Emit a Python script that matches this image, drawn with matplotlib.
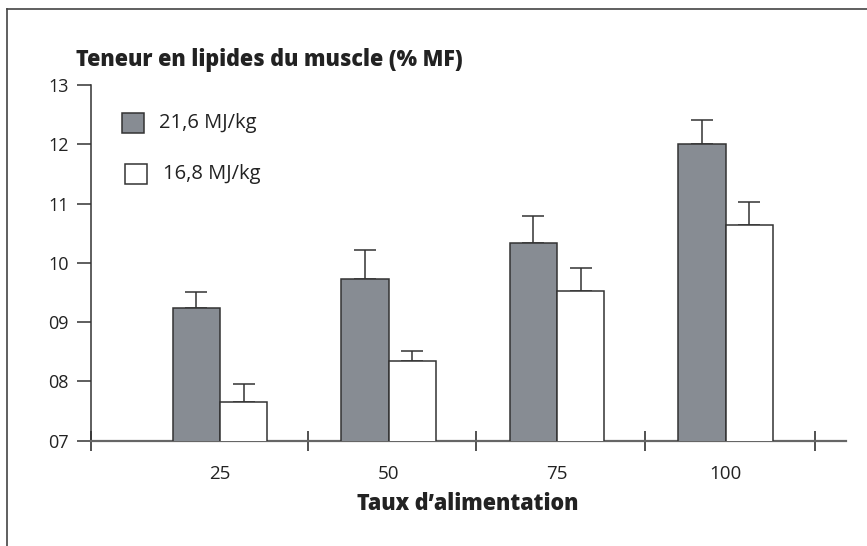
import matplotlib
matplotlib.use('Agg')
import matplotlib.pyplot as plt
import numpy as np
from matplotlib.patches import Rectangle
from matplotlib.lines import Line2D

# données
taux = ['25', '50', '75', '100']
lip_216 = [9.23, 9.72, 10.33, 12.0]    # 21,6 MJ/kg
err_216 = [0.28, 0.50, 0.46, 0.41]
lip_168 = [7.65, 8.34, 9.53, 10.64]    # 16,8 MJ/kg
err_168 = [0.31, 0.17, 0.39, 0.39]
yticks = [7, 8, 9, 10, 11, 12, 13]
ylabels = ['07', '08', '09', '10', '11', '12', '13']

plt.rcParams['font.family'] = ['Open Sans', 'DejaVu Sans']

W, H = 867, 546
fig = plt.figure(figsize=(W / 100, H / 100), dpi=100)
ax = fig.add_axes([91 / W, 1 - 440.7 / H, (846 - 91) / W, (440.7 - 85) / H])

x = np.arange(len(taux))
w = 0.28
dark = '#878c93'
edge = '#333333'
txt = '#222222'
ax.bar(x - w / 2, lip_216, w, color=dark, edgecolor=edge, linewidth=1.1, zorder=3)
ax.bar(x + w / 2, lip_168, w, color='white', edgecolor=edge, linewidth=1.1, zorder=3)
ax.errorbar(x - w / 2, lip_216, yerr=[np.zeros(4), err_216], fmt='none',
            ecolor=edge, elinewidth=1.1, capsize=8, capthick=1.1, zorder=2)
ax.errorbar(x + w / 2, lip_168, yerr=[np.zeros(4), err_168], fmt='none',
            ecolor=edge, elinewidth=1.1, capsize=8, capthick=1.1, zorder=2)

ax.set_ylim(7, 13)
ax.set_xlim(-0.766, 3.715)
ax.set_yticks(yticks)
ax.set_yticklabels(ylabels, fontsize=13, color=txt)
ax.tick_params(axis='y', length=10, width=1.1, color='#333333', pad=6)

# ticks de séparation sur l'axe x
ax.set_xticks([-0.766, 0.52, 1.52, 2.52, 3.53])
ax.set_xticklabels([])
ax.tick_params(axis='x', direction='inout', length=15, width=1.1, color=txt)
for xi, t in zip(x, taux):
    ax.text(xi, -0.068, t, transform=ax.get_xaxis_transform(), ha='center', va='top',
            fontsize=13.5, color=txt)

for s in ['top', 'right']:
    ax.spines[s].set_visible(False)
ax.spines['left'].set_color('#333333')
ax.spines['left'].set_linewidth(1.1)
ax.spines['bottom'].set_color('#666666')
ax.spines['bottom'].set_linewidth(1.6)

fig.text(468 / W, 1 - 504 / H, 'Taux d\u2019alimentation', ha='center', va='center',
         fontsize=15.5, fontweight='heavy', color=txt)
fig.text(76 / W, 1 - 60 / H, 'Teneur en lipides du muscle (% MF)', ha='left', va='center',
         fontsize=15.5, fontweight='heavy', color=txt)

# légende
fig.add_artist(Rectangle((122 / W, 1 - 133 / H), 22 / W, 20.5 / H, transform=fig.transFigure,
                         facecolor=dark, edgecolor=edge, linewidth=1.1))
fig.text(159 / W, 1 - 123 / H, '21,6 MJ/kg', ha='left', va='center', fontsize=14.5, color=txt)
fig.add_artist(Rectangle((125 / W, 1 - 184 / H), 22 / W, 20 / H, transform=fig.transFigure,
                         facecolor='white', edgecolor=edge, linewidth=1.1))
fig.text(163 / W, 1 - 174 / H, '16,8 MJ/kg', ha='left', va='center', fontsize=14.5, color=txt)

# cadre extérieur
fig.add_artist(Line2D([7 / W, 1.01], [1 - 9 / H, 1 - 9 / H], transform=fig.transFigure,
                      color='#444444', linewidth=1.2))
fig.add_artist(Line2D([7 / W, 7 / W], [-0.01, 1 - 9 / H], transform=fig.transFigure,
                      color='#444444', linewidth=1.2))

fig.savefig('out.png', dpi=100)
